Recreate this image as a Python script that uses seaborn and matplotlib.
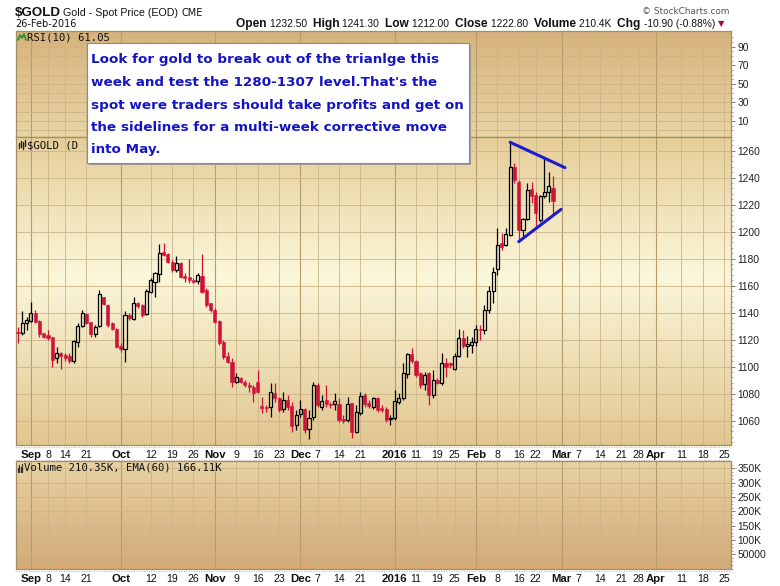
import numpy as np
import pandas as pd
import matplotlib
matplotlib.use("Agg")
import matplotlib.pyplot as plt
from matplotlib.colors import LinearSegmentedColormap
from matplotlib.patches import Rectangle
from matplotlib.lines import Line2D
from matplotlib.transforms import Bbox
import seaborn as sns

sns.set_theme(style="white")
plt.rcParams["font.family"] = ["Liberation Sans", "DejaVu Sans"]

W, H = 780, 586

# NYSE trading calendar (weekends and exchange holidays removed)
HOLIDAYS = ["2015-09-07", "2015-11-26", "2015-12-25", "2016-01-01",
            "2016-01-18", "2016-02-15", "2016-03-25"]
calendar = pd.bdate_range("2015-08-27", "2016-04-29", freq="C", holidays=HOLIDAYS)

# daily OHLC, 27-Aug-2015 .. 26-Feb-2016
opens = [1125.8, 1124.7, 1132.2, 1134.1, 1139.5, 1134.1, 1124.7, 1123.5, 1122.3, 1106.2,
         1110.4, 1108.4, 1107.9, 1104.5, 1118.5, 1130.4, 1139.0, 1133.4, 1124.0, 1130.4,
         1151.4, 1145.7, 1132.1, 1127.9, 1115.3, 1112.9, 1138.1, 1135.1, 1146.9, 1145.7,
         1138.8, 1155.3, 1163.0, 1168.4, 1184.7, 1183.5, 1177.8, 1171.6, 1176.6, 1167.2,
         1166.7, 1164.2, 1163.7, 1167.2, 1156.8, 1146.9, 1142.0, 1134.1, 1118.5, 1107.9,
         1103.7, 1088.9, 1091.9, 1088.9, 1086.5, 1085.2, 1088.9, 1070.9, 1070.4, 1069.9,
         1080.3, 1076.6, 1068.7, 1075.3, 1070.9, 1056.8, 1064.7, 1068.4, 1053.6, 1062.5,
         1086.5, 1069.9, 1075.3, 1072.4, 1072.4, 1072.4, 1061.0, 1060.5, 1072.9, 1051.9,
         1065.5, 1079.1, 1072.9, 1069.9, 1076.6, 1069.2, 1068.7, 1061.0, 1061.8, 1073.6,
         1076.6, 1094.6, 1109.4, 1104.5, 1095.1, 1087.2, 1095.1, 1079.1, 1090.2, 1087.7,
         1102.5, 1102.5, 1098.1, 1107.9, 1121.0, 1115.0, 1116.0, 1118.0, 1128.0, 1127.0,
         1142.0, 1156.0, 1172.0, 1191.4, 1190.1, 1197.5, 1247.6, 1237.0, 1201.2, 1209.1,
         1231.3, 1227.2, 1208.6, 1226.4, 1229.6, 1232.5]
highs = [1129.2, 1141.5, 1136.6, 1148.2, 1142.0, 1134.6, 1125.0, 1127.2, 1122.3, 1114.4,
         1111.1, 1110.0, 1109.9, 1119.8, 1132.1, 1142.0, 1139.5, 1133.4, 1130.9, 1156.8,
         1151.9, 1146.4, 1133.0, 1128.4, 1117.3, 1141.5, 1140.0, 1151.9, 1148.2, 1146.4,
         1157.3, 1165.5, 1170.4, 1190.9, 1191.9, 1184.0, 1179.0, 1182.0, 1177.8, 1169.2,
         1179.5, 1165.5, 1169.2, 1183.5, 1158.1, 1147.4, 1143.2, 1134.6, 1119.5, 1111.2,
         1106.2, 1095.1, 1092.6, 1090.2, 1088.9, 1086.5, 1097.6, 1077.8, 1071.6, 1087.7,
         1087.7, 1077.8, 1081.5, 1079.1, 1074.1, 1067.9, 1075.3, 1069.2, 1067.9, 1088.9,
         1087.7, 1079.1, 1086.5, 1074.1, 1080.3, 1076.6, 1064.2, 1077.8, 1073.4, 1071.6,
         1081.5, 1080.3, 1075.3, 1077.8, 1077.8, 1071.6, 1070.4, 1064.2, 1082.8, 1080.3,
         1102.5, 1110.4, 1113.6, 1105.0, 1096.3, 1096.3, 1096.3, 1097.6, 1091.4, 1110.4,
         1106.2, 1103.7, 1109.9, 1128.0, 1127.0, 1123.0, 1122.0, 1131.0, 1131.0, 1146.0,
         1160.0, 1174.0, 1202.5, 1198.8, 1202.5, 1266.2, 1250.6, 1238.3, 1209.9, 1235.8,
         1237.0, 1229.6, 1227.2, 1254.3, 1244.4, 1241.3]
lows = [1117.3, 1123.5, 1127.2, 1133.4, 1132.6, 1122.0, 1121.0, 1119.8, 1100.0, 1103.0,
        1098.0, 1104.0, 1102.5, 1103.0, 1114.8, 1129.7, 1131.6, 1121.8, 1121.8, 1129.7,
        1145.7, 1129.7, 1127.0, 1113.6, 1111.1, 1103.7, 1134.6, 1134.6, 1143.2, 1136.6,
        1138.3, 1154.3, 1151.9, 1163.0, 1182.0, 1176.6, 1170.4, 1170.4, 1165.5, 1163.0,
        1161.8, 1161.8, 1161.3, 1154.8, 1144.5, 1140.8, 1132.1, 1116.0, 1106.0, 1102.5,
        1085.2, 1087.7, 1088.2, 1084.7, 1081.5, 1074.1, 1080.8, 1065.5, 1066.7, 1062.5,
        1074.1, 1066.7, 1066.7, 1067.9, 1051.9, 1053.1, 1063.0, 1050.7, 1046.2, 1060.5,
        1070.4, 1067.9, 1070.4, 1069.2, 1067.9, 1059.3, 1058.1, 1059.3, 1047.0, 1050.7,
        1064.2, 1070.4, 1069.2, 1068.4, 1066.7, 1066.7, 1059.3, 1056.8, 1060.5, 1072.4,
        1075.3, 1091.4, 1102.5, 1092.6, 1084.0, 1082.8, 1071.6, 1076.6, 1087.2, 1086.5,
        1092.6, 1098.8, 1097.6, 1107.4, 1114.0, 1107.0, 1110.0, 1115.0, 1120.0, 1124.0,
        1140.0, 1147.0, 1168.0, 1186.4, 1189.6, 1196.8, 1235.8, 1192.6, 1196.3, 1208.6,
        1221.0, 1203.7, 1207.4, 1224.7, 1222.2, 1212.0]
closes = [1125.2, 1132.6, 1134.6, 1139.5, 1133.4, 1124.2, 1122.2, 1121.0, 1105.0, 1110.4,
          1107.9, 1106.2, 1104.5, 1119.0, 1130.4, 1139.5, 1132.6, 1124.0, 1129.7, 1153.6,
          1146.4, 1130.9, 1127.9, 1114.8, 1112.9, 1138.0, 1135.8, 1146.9, 1145.0, 1138.3,
          1156.1, 1164.2, 1169.2, 1184.0, 1182.7, 1177.8, 1171.6, 1176.6, 1166.7, 1165.5,
          1164.2, 1163.0, 1167.9, 1155.6, 1145.7, 1142.0, 1133.4, 1117.3, 1107.4, 1103.7,
          1088.9, 1092.1, 1088.9, 1086.5, 1084.7, 1080.8, 1081.5, 1069.7, 1069.4, 1081.5,
          1076.6, 1067.9, 1075.3, 1070.4, 1056.1, 1064.2, 1068.4, 1053.1, 1061.8, 1086.5,
          1071.6, 1074.6, 1072.4, 1071.4, 1074.9, 1060.5, 1060.0, 1072.4, 1051.9, 1066.7,
          1078.3, 1072.4, 1070.9, 1076.6, 1067.9, 1067.9, 1060.5, 1061.8, 1074.6, 1077.1,
          1095.1, 1109.4, 1104.5, 1093.9, 1086.5, 1093.9, 1079.1, 1090.2, 1087.7, 1102.5,
          1100.0, 1101.3, 1107.9, 1121.0, 1115.0, 1117.0, 1118.0, 1128.0, 1127.0, 1142.0,
          1156.0, 1170.0, 1190.1, 1188.9, 1198.3, 1247.6, 1238.3, 1201.2, 1209.1, 1230.9,
          1226.4, 1213.6, 1226.4, 1229.6, 1233.7, 1222.8]

# axis scales
price_ticks = [1060, 1080, 1100, 1120, 1140, 1160, 1180, 1200, 1220, 1240, 1260]
rsi_ticks = [10, 30, 50, 70, 90]
rsi_grid = [0, 10, 20, 30, 40, 50, 60, 70, 80, 90, 100]
vol_ticks = [50000, 100000, 150000, 200000, 250000, 300000, 350000]
vol_tick_labels = ["50000", "100K", "150K", "200K", "250K", "300K", "350K"]
date_tick_days = ["2015-09-01", "2015-09-08", "2015-09-14", "2015-09-21", "2015-10-01",
                  "2015-10-12", "2015-10-19", "2015-10-26", "2015-11-02", "2015-11-09",
                  "2015-11-16", "2015-11-23", "2015-12-01", "2015-12-07", "2015-12-14",
                  "2015-12-21", "2016-01-04", "2016-01-11", "2016-01-19", "2016-01-25",
                  "2016-02-01", "2016-02-08", "2016-02-16", "2016-02-22", "2016-03-01",
                  "2016-03-07", "2016-03-14", "2016-03-21", "2016-03-28", "2016-04-01",
                  "2016-04-11", "2016-04-18", "2016-04-25"]
date_tick_labels = ["Sep", "8", "14", "21", "Oct", "12", "19", "26", "Nov", "9", "16", "23",
                    "Dec", "7", "14", "21", "2016", "11", "19", "25", "Feb", "8", "16", "22",
                    "Mar", "7", "14", "21", "28", "Apr", "11", "18", "25"]
period_labels = {"Sep", "Oct", "Nov", "Dec", "2016", "Feb", "Mar", "Apr"}

# hand-drawn triangle (trading-day index, price)
tri_upper_x, tri_upper_y = [115.0, 127.8], [1266.2, 1247.4]
tri_lower_x, tri_lower_y = [117.0, 126.9], [1192.6, 1216.5]

note_lines = ["Look for gold to break out of the trianlge this",
              "week and test the 1280-1307 level.That's the",
              "spot were traders should take profits and get on",
              "the sidelines for a multi-week corrective move",
              "into May."]

RED = "#cf1338"
GRID = "#cdb487"
MONTH_GRID = "#b59a6c"
EDGE = "#a48c68"

df = pd.DataFrame({"date": calendar[:len(closes)], "open": opens, "high": highs,
                   "low": lows, "close": closes})
pos = {d: i for i, d in enumerate(calendar)}
df["x"] = [pos[d] for d in df["date"]]

XLIM = (-0.47, 166.6)

fig = plt.figure(figsize=(W / 100, H / 100), dpi=100)
fig.patch.set_facecolor("white")


def frame(x0, y0, x1, y1):
    return [x0 / W, 1 - y1 / H, (x1 - x0) / W, (y1 - y0) / H]


def shade(ax, stops):
    cmap = LinearSegmentedColormap.from_list("bg", stops)
    ax.imshow(np.linspace(0, 1, 256)[:, None], cmap=cmap, extent=(0, 1, 0, 1),
              transform=ax.transAxes, aspect="auto", origin="upper", zorder=-5)


week_starts = sorted({pos[pd.Timestamp(d)] for d in date_tick_days})
month_starts = [pos[pd.Timestamp(d)] for d, l in zip(date_tick_days, date_tick_labels)
                if l in period_labels]
tick_x = [pos[pd.Timestamp(d)] for d in date_tick_days]


def style_panel(ax, ylim, yticks, ylabels, hgrid, minor=None, dates=False):
    ax.set_xlim(*XLIM)
    ax.set_ylim(*ylim)
    for x in week_starts:
        ax.axvline(x, color=MONTH_GRID if x in month_starts else GRID,
                   lw=0.8 if x in month_starts else 0.6, zorder=-1)
    for y in hgrid:
        ax.axhline(y, color=GRID, lw=0.6, zorder=-1)
    ax.yaxis.tick_right()
    ax.set_yticks(yticks)
    ax.set_yticklabels(ylabels, fontsize=7.4, color="#222222")
    if minor is not None:
        ax.set_yticks(minor, minor=True)
    ax.tick_params(axis="y", which="major", length=3, width=0.6, color="#666666",
                   pad=1.5, right=True, left=False)
    ax.tick_params(axis="y", which="minor", length=1.5, width=0.5, color="#888888",
                   right=True, left=False)
    if dates:
        ax.set_xticks(tick_x)
        ax.set_xticklabels(date_tick_labels, fontsize=7.6, color="#111111")
        for lbl in ax.get_xticklabels():
            if lbl.get_text() in period_labels:
                lbl.set_fontweight("bold")
                lbl.set_fontsize(8.2)
        ax.tick_params(axis="x", length=0, pad=3.5, bottom=True)
    else:
        ax.set_xticks([])
    for s in ax.spines.values():
        s.set_color(EDGE)
        s.set_linewidth(0.9)
    ax.grid(False)


# date bands behind the panels
for y0, y1 in [(445, 461), (569, 586)]:
    fig.patches.append(Rectangle((16 / W, 1 - y1 / H), (731 - 16) / W, (y1 - y0) / H,
                                 transform=fig.transFigure, facecolor="white",
                                 edgecolor="none", zorder=-2))

# ---- RSI panel (frame only) ----
ax_rsi = fig.add_axes(frame(16, 31, 731, 137))
shade(ax_rsi, ["#d6b27c", "#e8d5a4"])
style_panel(ax_rsi, (-7.3, 107), rsi_ticks, [str(t) for t in rsi_ticks], rsi_grid,
            minor=np.arange(0, 101, 5))

# ---- price panel ----
ax = fig.add_axes(frame(16, 137, 731, 445))
shade(ax, [(0, "#e5cd98"), (0.45, "#fbf7da"), (1, "#e1c68f")])

BW = 0.72
dn = df[df.close < df.open]
up = df[df.close >= df.open]
ax.vlines(dn.x, dn.low, dn.high, color=RED, lw=0.9, zorder=2)
ax.bar(dn.x, dn.open - dn.close, bottom=dn.close, width=BW, color=RED,
       edgecolor=RED, lw=0.4, zorder=3)
ax.vlines(up.x, up.close, up.high, color="black", lw=0.9, zorder=2)
ax.vlines(up.x, up.low, up.open, color="black", lw=0.9, zorder=2)
ax.bar(up.x, np.maximum(up.close - up.open, 0.3), bottom=up.open, width=BW,
       fill=False, edgecolor="black", lw=0.9, zorder=3)

tri = pd.DataFrame({"x": tri_upper_x + tri_lower_x, "y": tri_upper_y + tri_lower_y,
                    "leg": ["upper"] * 2 + ["lower"] * 2})
sns.lineplot(data=tri, x="x", y="y", units="leg", estimator=None, sort=False,
             color="#1c1ccf", lw=2.2, ax=ax, zorder=4)
ax.set_xlabel("")
ax.set_ylabel("")
style_panel(ax, (1042, 1270.1), price_ticks, [str(t) for t in price_ticks], price_ticks,
            minor=np.arange(1044, 1270, 4), dates=True)

# ---- volume panel (frame only) ----
ax_vol = fig.add_axes(frame(16, 461, 731, 569))
shade(ax_vol, ["#e7d2a2", "#d3a977"])
style_panel(ax_vol, (-1300, 375500), vol_ticks, vol_tick_labels, vol_ticks,
            minor=np.arange(0, 375000, 12500), dates=True)

for y in [447, 460, 571]:
    fig.add_artist(Line2D([16 / W, 731 / W], [1 - y / H] * 2, color="#9a9a9a",
                          lw=0.6, ls=(0, (1, 2))))

# ---- header ----
fig.text(15 / W, 1 - 13 / H, "$GOLD", fontsize=9.6, fontweight="bold", va="center",
         color="#111111")
fig.text(63 / W, 1 - 13 / H, "Gold - Spot Price (EOD)", fontsize=7.7, va="center",
         color="#111111")
fig.text(182 / W, 1 - 13 / H, "CME", fontsize=7, va="center", color="#111111",
         family="DejaVu Sans")
fig.text(15 / W, 1 - 24 / H, "26-Feb-2016", fontsize=7, va="center", color="#111111",
         family="DejaVu Sans")
fig.text(730 / W, 1 - 11 / H, "\u00a9 StockCharts.com", fontsize=6.4, va="center",
         ha="right", color="#555555", family="DejaVu Sans")

fig.canvas.draw()
rend = fig.canvas.get_renderer()
parts = [("Open ", True), ("1232.50  ", False), ("High ", True), ("1241.30  ", False),
         ("Low ", True), ("1212.00  ", False), ("Close ", True), ("1222.80  ", False),
         ("Volume ", True), ("210.4K  ", False), ("Chg ", True), ("-10.90 (-0.88%)", False)]
x = 236.0
for s, b in parts:
    t = fig.text(x / W, 1 - 24 / H, s, fontsize=8.6 if b else 7.4,
                 fontweight="bold" if b else "normal", va="center", color="#111111")
    x += t.get_window_extent(renderer=rend).width
fig.text((x + 3) / W, 1 - 23.5 / H, "\u25bc", fontsize=6, va="center", color="#9b1030",
         family="DejaVu Sans")

# panel captions
MONO = "DejaVu Sans Mono"
fig.text(27 / W, 1 - 37 / H, "RSI(10) 61.05", fontsize=7.7, va="center", family=MONO,
         color="#111111")
fig.add_artist(Line2D(np.array([18, 20, 22, 24, 26]) / W,
                      1 - np.array([40, 35, 38, 34, 40]) / H, color="#2f8a2f", lw=1.2))
# price caption runs under the note box; only its start is visible
caption = fig.text(27 / W, 1 - 145 / H, "$GOLD (D", fontsize=7.7,
                   va="center", family=MONO, color="#111111", zorder=1)
caption.set_clip_box(Bbox([[16, 0], [87, H]]))
caption.set_clip_on(True)
for i, (lo, hi) in enumerate([(143, 148), (141, 147), (142, 149), (140, 146)]):
    fig.add_artist(Line2D([(18.5 + 2 * i) / W] * 2, [1 - hi / H, 1 - lo / H],
                          color="#222222", lw=1.0))
fig.text(24 / W, 1 - 468 / H, "Volume 210.35K, EMA(60) 166.11K", fontsize=7.7,
         va="center", family=MONO, color="#111111")
for i, hgt in enumerate([4, 7, 5, 8]):
    fig.add_artist(Line2D([(17.5 + 1.6 * i) / W] * 2, [1 - 472 / H, 1 - (472 - hgt) / H],
                          color="#333333", lw=0.9))

# ---- annotation box ----
fig.patches.append(Rectangle((89 / W, 1 - 165 / H), (471 - 89) / W, (165 - 45) / H,
                             transform=fig.transFigure, facecolor="#9a9a9a",
                             edgecolor="none", zorder=5))
fig.patches.append(Rectangle((87 / W, 1 - 163 / H), (469 - 87) / W, (163 - 43) / H,
                             transform=fig.transFigure, facecolor="white",
                             edgecolor="#8c8c8c", lw=0.8, zorder=6))
for k, line in enumerate(note_lines):
    fig.text(91 / W, 1 - (60 + 22.5 * k) / H, line, fontsize=9.7, fontweight="bold",
             color="#1414c4", va="center", family="DejaVu Sans", zorder=7)

fig.savefig("out.png", dpi=100)
